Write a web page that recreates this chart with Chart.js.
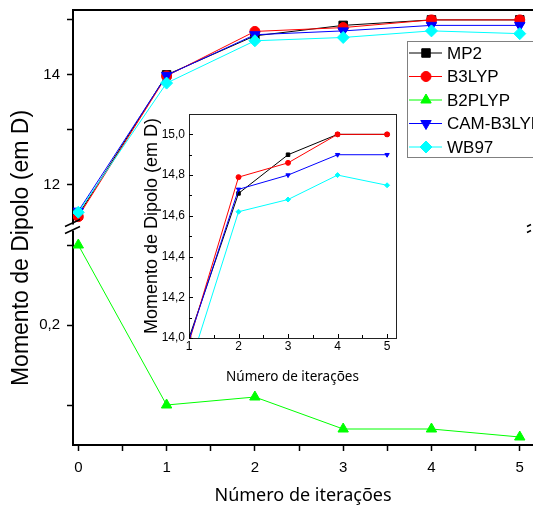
<!DOCTYPE html>
<html>
<head>
<meta charset="utf-8">
<script src="https://cdn.jsdelivr.net/npm/chart.js@4.4.1/dist/chart.umd.min.js"></script>
<style>
  html, body { margin: 0; padding: 0; background: #fff; }
  #wrap { position: relative; width: 533px; height: 510px; overflow: hidden; }
  #main { position: absolute; left: 0; top: 0; }
  #inset { position: absolute; left: 130px; top: 105px; }
</style>
</head>
<body>
<div id="wrap">
  <canvas id="main" width="533" height="510"></canvas>
  <canvas id="inset" width="275" height="290"></canvas>
</div>
<script>
// data
const iterations = [0, 1, 2, 3, 4, 5];
const mp2      = [11.45, 14.00, 14.71, 14.90, 15.00, 15.00];
const b3lyp    = [11.42, 13.98, 14.79, 14.86, 15.00, 15.00];
const b2plyp   = [0.30, 0.10, 0.11, 0.07, 0.07, 0.06];
const camb3lyp = [11.52, 13.99, 14.73, 14.80, 14.90, 14.90];
const wb97     = [11.50, 13.85, 14.62, 14.68, 14.80, 14.75];

const mainYTicks = [0.1, 0.2, 0.3, 12, 13, 14, 15];
const mainYLabels = { 0.2: '0,2', 12: '12', 14: '14' };
const insetYTicks = [14.0, 14.1, 14.2, 14.3, 14.4, 14.5, 14.6, 14.7, 14.8, 14.9, 15.0];
const insetYLabels = ['14,0', '', '14,2', '', '14,4', '', '14,6', '', '14,8', '', '15,0'];

const series = [
  { label: 'MP2',       data: mp2,      color: '#000000', style: 'rect',     rot: 0,   r: 6 },
  { label: 'B3LYP',     data: b3lyp,    color: '#ff0000', style: 'circle',   rot: 0,   r: 5 },
  { label: 'B2PLYP',    data: b2plyp,   color: '#00ff00', style: 'triangle', rot: 0,   r: 6 },
  { label: 'CAM-B3LYP', data: camb3lyp, color: '#0000ff', style: 'triangle', rot: 180, r: 6 },
  { label: 'WB97',      data: wb97,     color: '#00ffff', style: 'rectRot',  rot: 0,   r: 6 }
];

const ARIAL = 'Arial, "Liberation Sans", sans-serif';

// y axis with a break: a low segment and a high segment sharing one axis
class BrokenScale extends Chart.LinearScale {
  segHeight() {
    return (this.bottom - this.top - this.options.gap) / 2;
  }
  getPixelForValue(v) {
    const o = this.options;
    const h = this.segHeight();
    if (v < (o.lowMax + o.highMin) / 2) {
      return this.bottom - (v - o.lowMin) / (o.lowMax - o.lowMin) * h;
    }
    return this.top + (o.highMax - v) / (o.highMax - o.highMin) * h;
  }
  getValueForPixel(p) {
    const o = this.options;
    const h = this.segHeight();
    if (p > this.top + h) {
      return o.lowMin + (this.bottom - p) / h * (o.lowMax - o.lowMin);
    }
    return o.highMax - (p - this.top) / h * (o.highMax - o.highMin);
  }
}
BrokenScale.id = 'broken';
BrokenScale.defaults = Chart.LinearScale.defaults;
Chart.register(BrokenScale);

function drawMarker(ctx, s, x, y, r) {
  ctx.fillStyle = s.color;
  ctx.strokeStyle = s.color;
  ctx.lineWidth = 1;
  Chart.helpers.drawPoint(ctx, { pointStyle: s.style, rotation: s.rot, radius: r, borderWidth: 1 }, x, y);
}

// extras for the main chart: top frame line, axis breaks, y title, legend
const mainDecor = {
  id: 'mainDecor',
  afterDraw(chart) {
    const ctx = chart.ctx;
    const a = chart.chartArea;
    const y = chart.scales.y;
    ctx.save();

    ctx.strokeStyle = '#000';
    ctx.lineWidth = 2;
    ctx.beginPath();
    ctx.moveTo(a.left, a.top);
    ctx.lineTo(a.right, a.top);
    ctx.stroke();

    // break marks
    const yb = (y.getPixelForValue(y.options.lowMax) + y.getPixelForValue(y.options.highMin)) / 2;
    ctx.fillStyle = '#fff';
    ctx.fillRect(a.left - 2, yb - 3, 4, 6);
    ctx.lineWidth = 1.5;
    ctx.beginPath();
    ctx.moveTo(a.left - 8, yb - 1); ctx.lineTo(a.left + 7, yb - 8);
    ctx.moveTo(a.left - 8, yb + 6); ctx.lineTo(a.left + 7, yb - 1);
    ctx.moveTo(a.right - 6, yb - 1); ctx.lineTo(a.right - 2, yb - 3);
    ctx.moveTo(a.right - 6, yb + 5); ctx.lineTo(a.right - 2, yb + 3);
    ctx.stroke();

    // y title
    ctx.fillStyle = '#000';
    ctx.font = '23px ' + ARIAL;
    ctx.textAlign = 'center';
    ctx.textBaseline = 'middle';
    ctx.translate(22, 248);
    ctx.rotate(-Math.PI / 2);
    ctx.fillText('Momento de Dipolo (em D)', 0, 0);
    ctx.restore();

    // legend
    ctx.save();
    const lx = 407, ly = 41, lw = 140, lh = 116;
    ctx.fillStyle = '#fff';
    ctx.fillRect(lx, ly, lw, lh);
    ctx.strokeStyle = '#808080';
    ctx.lineWidth = 1;
    ctx.strokeRect(lx + 0.5, ly + 0.5, lw, lh);
    series.forEach((s, i) => {
      const yy = ly + 12 + i * 23.5;
      ctx.strokeStyle = s.color;
      ctx.lineWidth = 1;
      ctx.beginPath();
      ctx.moveTo(lx + 2, yy);
      ctx.lineTo(lx + 35, yy);
      ctx.stroke();
      drawMarker(ctx, s, lx + 19, yy, s.r);
      ctx.fillStyle = '#000';
      ctx.font = '17px ' + ARIAL;
      ctx.textAlign = 'left';
      ctx.textBaseline = 'middle';
      ctx.fillText(s.label, lx + 40, yy + 1);
    });
    ctx.restore();
  }
};

new Chart(document.getElementById('main'), {
  type: 'line',
  data: {
    datasets: series.map((s, i) => ({
      label: s.label,
      data: iterations.map((x, j) => ({ x: x, y: s.data[j] })),
      borderColor: s.color,
      backgroundColor: s.color,
      borderWidth: 1,
      pointStyle: s.style,
      pointRotation: s.rot,
      pointRadius: s.r,
      pointBorderWidth: 1,
      order: series.length - i
    }))
  },
  options: {
    responsive: false,
    animation: false,
    layout: { autoPadding: false, padding: { top: 10, right: 0, left: 0, bottom: 0 } },
    plugins: { legend: { display: false }, tooltip: { enabled: false } },
    scales: {
      x: {
        type: 'linear',
        min: -0.06,
        max: 5.15,
        afterBuildTicks: (s) => {
          const t = [];
          iterations.forEach(v => { t.push({ value: v }); if (v < 5) t.push({ value: v + 0.5 }); });
          s.ticks = t;
        },
        afterFit: (s) => { s.height = 65; s.paddingLeft = 0; s.paddingRight = 0; },
        ticks: {
          autoSkip: false, maxRotation: 0, padding: 8, color: '#000',
          font: { family: ARIAL, size: 15 },
          callback: (v) => Number.isInteger(v) ? String(v) : ''
        },
        grid: { drawOnChartArea: false, tickLength: 6, color: '#000', tickWidth: 1.5 },
        border: { color: '#000', width: 2 },
        title: {
          display: true, text: 'Número de iterações', color: '#000',
          font: { family: '"Noto Sans"', size: 18 },
          padding: { top: 0, bottom: 3 }
        }
      },
      y: {
        type: 'broken',
        lowMin: 0.05, lowMax: 0.32, highMin: 11.25, highMax: 15.18, gap: 3,
        afterBuildTicks: (s) => { s.ticks = mainYTicks.map(v => ({ value: v })); },
        afterFit: (s) => { s.width = 73; s.paddingTop = 0; s.paddingBottom = 0; },
        ticks: {
          autoSkip: false, padding: 7, color: '#000',
          font: { family: ARIAL, size: 15 },
          callback: (v) => mainYLabels[v] || ''
        },
        grid: { drawOnChartArea: false, tickLength: 6, color: '#000', tickWidth: 1.5 },
        border: { color: '#000', width: 2 }
      }
    }
  },
  plugins: [mainDecor]
});

// inset: frame and inward tick marks
const insetDecor = {
  id: 'insetDecor',
  afterDraw(chart) {
    const ctx = chart.ctx;
    const a = chart.chartArea;
    ctx.save();
    ctx.strokeStyle = '#222';
    ctx.lineWidth = 1;
    ctx.strokeRect(a.left + 0.5, a.top + 0.5, a.right - a.left, a.bottom - a.top);
    ctx.strokeStyle = '#000';
    ctx.beginPath();
    chart.scales.x.ticks.forEach(t => {
      const px = Math.round(chart.scales.x.getPixelForValue(t.value)) + 0.5;
      const len = Number.isInteger(t.value) ? 4 : 3;
      ctx.moveTo(px, a.bottom); ctx.lineTo(px, a.bottom - len);
    });
    chart.scales.y.ticks.forEach((t, i) => {
      const py = Math.round(chart.scales.y.getPixelForValue(t.value)) + 0.5;
      const len = i % 2 === 0 ? 4 : 3;
      ctx.moveTo(a.left, py); ctx.lineTo(a.left + len, py);
    });
    ctx.stroke();
    ctx.restore();
  }
};

const insetSeries = series.filter(s => s.label !== 'B2PLYP');

new Chart(document.getElementById('inset'), {
  type: 'line',
  data: {
    datasets: insetSeries.map((s, i) => ({
      label: s.label,
      data: iterations.map((x, j) => ({ x: x, y: s.data[j] })),
      borderColor: s.color,
      backgroundColor: s.color,
      borderWidth: 1,
      pointStyle: s.style,
      pointRotation: s.rot,
      pointRadius: 2.5,
      pointBorderWidth: 1,
      order: insetSeries.length - i
    }))
  },
  options: {
    responsive: false,
    animation: false,
    layout: { autoPadding: false, padding: { top: 9, right: 9, left: 4, bottom: 0 } },
    plugins: { legend: { display: false }, tooltip: { enabled: false } },
    scales: {
      x: {
        type: 'linear',
        min: 1,
        max: 5.18,
        afterBuildTicks: (s) => {
          const t = [];
          iterations.filter(v => v >= 1).forEach(v => { t.push({ value: v }); if (v < 5) t.push({ value: v + 0.5 }); });
          s.ticks = t;
        },
        afterFit: (s) => { s.height = 57; s.paddingLeft = 0; s.paddingRight = 0; },
        ticks: {
          autoSkip: false, maxRotation: 0, padding: 1, color: '#000',
          font: { family: ARIAL, size: 12 },
          callback: (v) => Number.isInteger(v) ? String(v) : ''
        },
        grid: { drawOnChartArea: false, drawTicks: false },
        border: { color: '#000', width: 1 },
        title: {
          display: true, text: 'Número de iterações', color: '#000',
          font: { family: '"Noto Sans"', size: 13.5 },
          padding: { top: 0, bottom: 10 }
        }
      },
      y: {
        min: 14.0,
        max: 15.1,
        afterBuildTicks: (s) => { s.ticks = insetYTicks.map(v => ({ value: v })); },
        afterFit: (s) => { s.width = 55; s.paddingTop = 0; s.paddingBottom = 0; },
        ticks: {
          autoSkip: false, padding: 4, color: '#000',
          font: { family: ARIAL, size: 12 },
          callback: (v, i) => insetYLabels[i]
        },
        grid: { drawOnChartArea: false, drawTicks: false },
        border: { color: '#000', width: 1 },
        title: {
          display: true, text: 'Momento de Dipolo (em D)', color: '#000',
          font: { family: ARIAL, size: 18 },
          padding: { top: 7, bottom: 0 }
        }
      }
    }
  },
  plugins: [insetDecor]
});
</script>
</body>
</html>
